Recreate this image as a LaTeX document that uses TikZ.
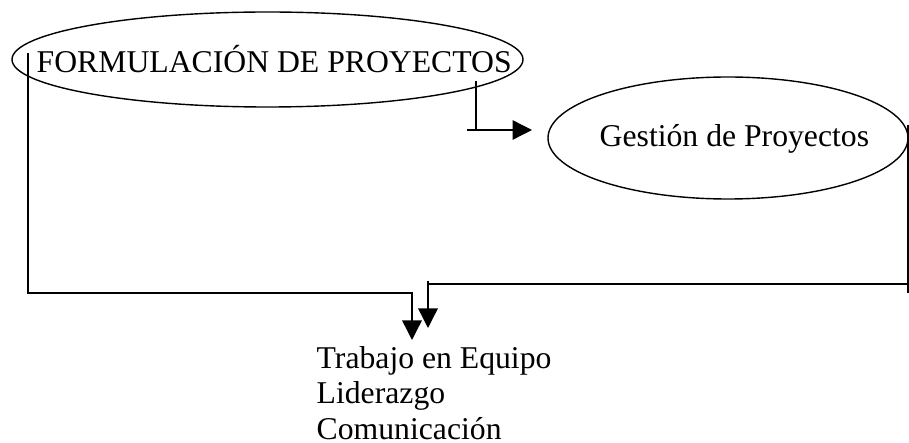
\documentclass[tikz,border=0pt]{standalone}
\usepackage{fontspec}
\setmainfont{Liberation Serif}
\usetikzlibrary{shapes.geometric,arrows.meta}
\begin{document}
\begin{tikzpicture}[x=1bp,y=-1bp,
  oval/.style={ellipse,draw,line width=1.4bp,inner sep=0pt},
  lbl/.style={inner sep=0pt,font=\fontsize{31.7bp}{35.5bp}\selectfont},
  conn/.style={line width=1.4bp},
  arr/.style={line width=1.4bp,-{Triangle[length=19.5bp,width=19.5bp]}}]
\useasboundingbox (0,0) rectangle (909,443);
% ovals
\node[oval,minimum width=511bp,minimum height=95bp] (f) at (267.5,59.5) {};
\node[lbl,anchor=base west] (ft) at (36.5,72.7) {FORMULACIÓN DE PROYECTOS};
\node[oval,minimum width=360bp,minimum height=122bp] (g) at (728,138) {};
\node[lbl,anchor=base west] (gt) at (599.5,147) {Gestión de Proyectos};
% list
\node[lbl,anchor=base west,align=left] (t) at (316.5,439) {Trabajo en Equipo\\Liderazgo\\Comunicación};
% connector ends
\coordinate (s1) at (28,53);
\coordinate (e1) at (412,340);
\coordinate (s2) at (908,125);
\coordinate (s2b) at (908,293);
\coordinate (e2) at (428,328);
\coordinate (s3) at (476,81);
\coordinate (s3b) at (467,130);
\coordinate (e3) at (532,130);
% connector 1: Formulación -> list
\draw[arr] (s1) |- (e1 |- 0,293) -- (e1);
% connector 2: Gestión -> list
\draw[conn] (s2) -- (s2b);
\draw[conn] (s2 |- 0,284) -- (e2 |- 0,284);
\draw[arr] (e2 |- 0,281) -- (e2);
% connector 3: Formulación -> Gestión
\draw[conn] (s3) -- (s3 |- e3);
\draw[arr] (s3b) -- (e3);
\end{tikzpicture}
\end{document}
